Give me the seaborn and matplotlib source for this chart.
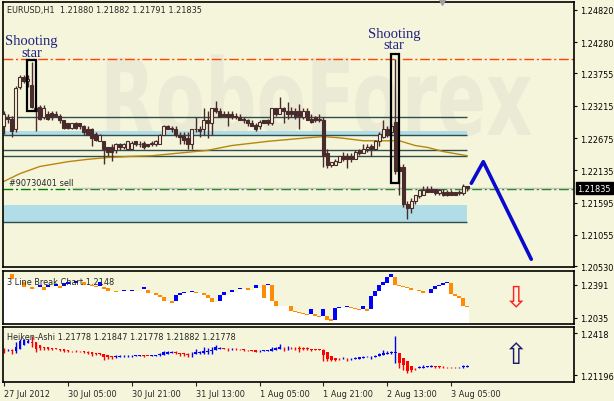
import numpy as np
import pandas as pd
import matplotlib
matplotlib.use("Agg")
import matplotlib.pyplot as plt
from matplotlib.patches import Rectangle, PathPatch
from matplotlib.textpath import TextPath
from matplotlib.font_manager import FontProperties
from matplotlib.transforms import Affine2D
import seaborn as sns

# EURUSD H1 candles (bar 0 = 27 Jul 2012)
bar_open = [1.2287, 1.2303, 1.2300, 1.2283, 1.2353, 1.2370, 1.2363, 1.2357, 1.2317, 1.2320,
            1.2303, 1.2308, 1.2310, 1.2307, 1.2305, 1.2297, 1.2292, 1.2285, 1.2293, 1.2292,
            1.2287, 1.2283, 1.2282, 1.2275, 1.2263, 1.2262, 1.2252, 1.2253, 1.2247, 1.2258,
            1.2252, 1.2250, 1.2250, 1.2262, 1.2258, 1.2260, 1.2257, 1.2257, 1.2257, 1.2258,
            1.2273, 1.2288, 1.2285, 1.2282, 1.2273, 1.2272, 1.2267, 1.2258, 1.2283, 1.2283,
            1.2283, 1.2297, 1.2293, 1.2317, 1.2313, 1.2308, 1.2307, 1.2307, 1.2305, 1.2303,
            1.2300, 1.2297, 1.2293, 1.2290, 1.2287, 1.2297, 1.2297, 1.2292, 1.2317, 1.2308,
            1.2317, 1.2313, 1.2313, 1.2312, 1.2312, 1.2303, 1.2312, 1.2300, 1.2302, 1.2300,
            1.2298, 1.2242, 1.2222, 1.2223, 1.2228, 1.2238, 1.2238, 1.2238, 1.2233, 1.2247,
            1.2243, 1.2250, 1.2255, 1.2250, 1.2263, 1.2270, 1.2282, 1.2278, 1.2295, 1.2220,
            1.2220, 1.2158, 1.2150, 1.2162, 1.2170, 1.2173, 1.2183, 1.2182, 1.2183, 1.2175,
            1.2178, 1.2177, 1.2177, 1.2177, 1.2177, 1.2175, 1.2188]
bar_high = [1.2313, 1.2308, 1.2305, 1.2355, 1.2373, 1.2373, 1.2373, 1.2395, 1.2322, 1.2323,
            1.2322, 1.2312, 1.2312, 1.2312, 1.2307, 1.2298, 1.2293, 1.2293, 1.2295, 1.2293,
            1.2290, 1.2287, 1.2285, 1.2277, 1.2275, 1.2263, 1.2253, 1.2257, 1.2260, 1.2260,
            1.2260, 1.2262, 1.2262, 1.2263, 1.2262, 1.2262, 1.2258, 1.2263, 1.2265, 1.2275,
            1.2290, 1.2290, 1.2287, 1.2287, 1.2277, 1.2277, 1.2277, 1.2283, 1.2303, 1.2287,
            1.2317, 1.2313, 1.2317, 1.2330, 1.2317, 1.2313, 1.2312, 1.2312, 1.2310, 1.2307,
            1.2303, 1.2300, 1.2297, 1.2292, 1.2297, 1.2298, 1.2300, 1.2318, 1.2318, 1.2337,
            1.2320, 1.2328, 1.2320, 1.2317, 1.2325, 1.2317, 1.2317, 1.2307, 1.2305, 1.2308,
            1.2302, 1.2250, 1.2228, 1.2233, 1.2238, 1.2245, 1.2242, 1.2242, 1.2247, 1.2250,
            1.2257, 1.2257, 1.2258, 1.2265, 1.2278, 1.2297, 1.2287, 1.2292, 1.2400, 1.2225,
            1.2225, 1.2162, 1.2167, 1.2173, 1.2183, 1.2188, 1.2187, 1.2188, 1.2183, 1.2183,
            1.2182, 1.2180, 1.2180, 1.2178, 1.2180, 1.2190, 1.2188]
bar_low = [1.2275, 1.2292, 1.2270, 1.2278, 1.2350, 1.2360, 1.2353, 1.2317, 1.2280, 1.2298,
           1.2300, 1.2297, 1.2297, 1.2302, 1.2293, 1.2283, 1.2283, 1.2283, 1.2283, 1.2283,
           1.2273, 1.2272, 1.2255, 1.2262, 1.2262, 1.2225, 1.2237, 1.2230, 1.2243, 1.2247,
           1.2250, 1.2248, 1.2250, 1.2255, 1.2252, 1.2250, 1.2253, 1.2255, 1.2255, 1.2257,
           1.2272, 1.2282, 1.2278, 1.2270, 1.2258, 1.2258, 1.2250, 1.2250, 1.2278, 1.2270,
           1.2272, 1.2268, 1.2272, 1.2310, 1.2303, 1.2303, 1.2288, 1.2300, 1.2300, 1.2297,
           1.2293, 1.2288, 1.2287, 1.2280, 1.2283, 1.2292, 1.2290, 1.2290, 1.2305, 1.2307,
           1.2292, 1.2300, 1.2303, 1.2300, 1.2283, 1.2300, 1.2297, 1.2293, 1.2295, 1.2295,
           1.2220, 1.2218, 1.2220, 1.2222, 1.2227, 1.2230, 1.2217, 1.2228, 1.2232, 1.2240,
           1.2242, 1.2245, 1.2237, 1.2248, 1.2255, 1.2267, 1.2270, 1.2272, 1.2207, 1.2173,
           1.2153, 1.2133, 1.2142, 1.2158, 1.2168, 1.2172, 1.2177, 1.2177, 1.2173, 1.2173,
           1.2170, 1.2170, 1.2172, 1.2172, 1.2172, 1.2173, 1.2179]
bar_close = [1.2308, 1.2300, 1.2280, 1.2352, 1.2370, 1.2363, 1.2367, 1.2320, 1.2312, 1.2300,
             1.2318, 1.2300, 1.2302, 1.2305, 1.2297, 1.2285, 1.2285, 1.2292, 1.2285, 1.2287,
             1.2277, 1.2273, 1.2267, 1.2265, 1.2273, 1.2250, 1.2245, 1.2245, 1.2258, 1.2252,
             1.2258, 1.2262, 1.2260, 1.2257, 1.2257, 1.2253, 1.2255, 1.2260, 1.2263, 1.2273,
             1.2288, 1.2283, 1.2282, 1.2273, 1.2270, 1.2265, 1.2257, 1.2283, 1.2282, 1.2280,
             1.2297, 1.2292, 1.2317, 1.2312, 1.2303, 1.2305, 1.2303, 1.2303, 1.2303, 1.2298,
             1.2297, 1.2292, 1.2288, 1.2283, 1.2295, 1.2293, 1.2293, 1.2317, 1.2307, 1.2317,
             1.2312, 1.2308, 1.2307, 1.2305, 1.2305, 1.2312, 1.2297, 1.2295, 1.2297, 1.2297,
             1.2237, 1.2222, 1.2227, 1.2230, 1.2237, 1.2233, 1.2233, 1.2233, 1.2245, 1.2242,
             1.2250, 1.2252, 1.2250, 1.2263, 1.2275, 1.2283, 1.2272, 1.2288, 1.2213, 1.2212,
             1.2158, 1.2150, 1.2163, 1.2172, 1.2180, 1.2180, 1.2178, 1.2178, 1.2175, 1.2180,
             1.2172, 1.2173, 1.2173, 1.2173, 1.2175, 1.2188, 1.21835]

# moving average (read at a few bars)
ma_bar = [0, 4, 9, 16, 21, 26, 32, 37, 51, 57, 66, 76, 80, 84, 90, 99, 103, 106, 110, 116]
ma_val = [1.2195, 1.2208, 1.2220, 1.2228, 1.2232, 1.2235, 1.2237, 1.2238, 1.2247, 1.2255,
          1.2262, 1.2268, 1.2270, 1.2268, 1.2263, 1.2263, 1.2255, 1.2252, 1.2245, 1.2238]

# forecast arrow
fc_bar = [117, 120, 132]
fc_val = [1.2192, 1.2228, 1.2065]

# levels
resist_level = 1.2399
order_level = 1.2182
bid_level = 1.21835
level_lines = [1.2303, 1.2273, 1.2248, 1.2237, 1.2128]
zones = [(1.2273, 1.2280), (1.2128, 1.2155)]

# 3 line break bricks: bar, top, bottom, direction
lb_bar = [2, 5, 7, 9, 10, 11, 13, 14, 15, 16, 18, 20, 22, 23, 24, 25, 26, 28, 30, 32,
          35, 36, 38, 39, 40, 42, 43, 44, 45, 47, 48, 50, 51, 52, 54, 55, 57, 59, 61, 63,
          65, 66, 67, 68, 72, 73, 74, 75, 76, 77, 78, 79, 80, 81, 82, 83, 84, 86, 87, 88,
          89, 90, 91, 92, 93, 94, 95, 96, 97, 98, 99, 100, 101, 102, 104, 105, 107, 108, 109, 110,
          111, 112, 113, 114, 115, 116]
lb_top = [1.2510, 1.2423, 1.2369, 1.2391, 1.2369, 1.2391, 1.2402, 1.2380, 1.2413, 1.2423,
          1.2434, 1.2423, 1.2391, 1.2380, 1.2423, 1.2369, 1.2359, 1.2326, 1.2337, 1.2337,
          1.2369, 1.2337, 1.2305, 1.2283, 1.2261, 1.2218, 1.2283, 1.2305, 1.2315, 1.2326,
          1.2315, 1.2305, 1.2283, 1.2251, 1.2283, 1.2315, 1.2337, 1.2359, 1.2359, 1.2391,
          1.2391, 1.2402, 1.2391, 1.2218, 1.2164, 1.2110, 1.2100, 1.2089, 1.2078, 1.2132,
          1.2078, 1.2057, 1.2132, 1.2057, 1.2024, 1.2143, 1.2154, 1.2164, 1.2154, 1.2143,
          1.2132, 1.2164, 1.2132, 1.2272, 1.2326, 1.2391, 1.2423, 1.2477, 1.2510, 1.2477,
          1.2391, 1.2380, 1.2369, 1.2359, 1.2337, 1.2326, 1.2348, 1.2380, 1.2391, 1.2413,
          1.2423, 1.2413, 1.2294, 1.2272, 1.2251, 1.2164]
lb_bottom = [1.2456, 1.2369, 1.2348, 1.2369, 1.2337, 1.2369, 1.2380, 1.2359, 1.2380, 1.2402,
             1.2413, 1.2391, 1.2380, 1.2369, 1.2380, 1.2348, 1.2326, 1.2315, 1.2326, 1.2326,
             1.2348, 1.2305, 1.2283, 1.2261, 1.2218, 1.2197, 1.2218, 1.2283, 1.2305, 1.2315,
             1.2305, 1.2283, 1.2251, 1.2208, 1.2218, 1.2283, 1.2315, 1.2348, 1.2337, 1.2359,
             1.2251, 1.2391, 1.2218, 1.2164, 1.2110, 1.2100, 1.2089, 1.2078, 1.2067, 1.2078,
             1.2057, 1.2046, 1.2057, 1.2013, 1.2003, 1.2013, 1.2143, 1.2154, 1.2143, 1.2132,
             1.2121, 1.2132, 1.2110, 1.2132, 1.2272, 1.2326, 1.2391, 1.2413, 1.2477, 1.2391,
             1.2380, 1.2369, 1.2359, 1.2337, 1.2326, 1.2305, 1.2305, 1.2348, 1.2380, 1.2391,
             1.2413, 1.2294, 1.2272, 1.2251, 1.2164, 1.2154]
lb_dir = ['dn', 'dn', 'dn', 'up', 'dn', 'up', 'up', 'dn', 'up', 'up',
          'up', 'dn', 'dn', 'dn', 'up', 'dn', 'dn', 'dn', 'up', 'up',
          'up', 'dn', 'dn', 'dn', 'dn', 'dn', 'up', 'up', 'up', 'up',
          'dn', 'dn', 'dn', 'dn', 'up', 'up', 'up', 'up', 'dn', 'up',
          'dn', 'up', 'dn', 'dn', 'dn', 'dn', 'dn', 'dn', 'dn', 'up',
          'dn', 'dn', 'up', 'dn', 'dn', 'up', 'up', 'up', 'dn', 'dn',
          'dn', 'up', 'dn', 'up', 'up', 'up', 'up', 'up', 'up', 'dn',
          'dn', 'dn', 'dn', 'dn', 'dn', 'dn', 'up', 'up', 'up', 'up',
          'up', 'dn', 'dn', 'dn', 'dn', 'dn']

tick_bars = [0, 16, 32, 48, 64, 80, 96, 112]
tick_labels = ['27 Jul 2012', '30 Jul 05:00', '30 Jul 21:00', '31 Jul 13:00',
               '1 Aug 05:00', '1 Aug 21:00', '2 Aug 13:00', '3 Aug 05:00']
main_ticks = [1.24820, 1.24280, 1.23755, 1.23215, 1.22675, 1.22135, 1.21595, 1.21055, 1.20530]
lb_ticks = [1.2391, 1.2035]
ha_ticks = [1.2418, 1.21196]

BG = '#f5f5dc'
CANDLE = '#4a2b2b'
FS = 5.9

sns.set_style("white")
plt.rcParams['font.family'] = ['DejaVu Sans']

df = pd.DataFrame({'bar': np.arange(len(bar_open)), 'open': bar_open, 'high': bar_high,
                   'low': bar_low, 'close': bar_close})
df['bull'] = df['close'] > df['open']

fig = plt.figure(figsize=(6.14, 4.02), dpi=100, facecolor=BG)
ax = fig.add_axes([3 / 614, 1 - 268 / 402, 571 / 614, 265 / 402])
ax2 = fig.add_axes([3 / 614, 1 - 325 / 402, 571 / 614, 53.3 / 402], sharex=ax)
ax3 = fig.add_axes([3 / 614, 1 - 383 / 402, 571 / 614, 55.3 / 402], sharex=ax)

for a in (ax, ax2, ax3):
    a.set_facecolor(BG)
    for s in a.spines.values():
        s.set_color('black')
        s.set_linewidth(1.2)
    a.yaxis.tick_right()
    a.tick_params(axis='y', which='both', right=True, left=False, length=2.5, width=0.8,
                  labelsize=FS, pad=1.5, colors='black')
    a.tick_params(axis='x', bottom=False, labelbottom=False)

ax.set_xlim(-0.2, 142.7)

# ---- main panel ----
# faint watermark, stretched to the logo's proportions (pixel units)
wm = TextPath((0, 0), 'RoboForex', size=1,
              prop=FontProperties(family='DejaVu Sans', weight='bold'))
wm_tr = Affine2D().scale(72 / 614, 106 / 402).translate(100 / 614, (402 - 136) / 402) + fig.transFigure
ax.add_patch(PathPatch(wm, transform=wm_tr, color='#eaead5', lw=0, zorder=0, clip_on=True))

for lo, hi in zones:
    ax.fill_between([-0.2, 116], lo, hi, color='#b0dde6', lw=0, zorder=1)
ax.hlines(level_lines, -0.2, 116, color='#2f4f4f', lw=1, zorder=2)
ax.axhline(resist_level, color='#ff4500', lw=1, dashes=(7, 2, 1.5, 2), zorder=2)
ax.axhline(order_level, color='#008000', lw=1, dashes=(7, 2, 1.5, 2), zorder=2)
ax.hlines(bid_level, 17, 142.7, color='#c0c0c0', lw=1, zorder=2)
ax.text(1.4, 1.2193, '#90730401 sell', fontsize=FS, va='center', ha='left', zorder=5)

sns.lineplot(x=ma_bar, y=ma_val, ax=ax, color='#b8860b', lw=1, zorder=2)

ax.vlines(df['bar'], df['low'], df['high'], color=CANDLE, lw=1, zorder=3)
body = (df['close'] - df['open']).abs().clip(lower=0.00006)
ax.bar(df['bar'], body, bottom=df[['open', 'close']].min(axis=1), width=0.72,
       color=np.where(df['bull'], BG, CANDLE), edgecolor=CANDLE, lw=0.8, zorder=4)

ax.add_patch(Rectangle((5.9, 1.2312), 2.05, 1.2398 - 1.2312, fill=False, ec='black', lw=1.6, zorder=6))
ax.add_patch(Rectangle((96.9, 1.2192), 2.1, 1.2408 - 1.2192, fill=False, ec='black', lw=1.6, zorder=6))
ax.text(6.9, 1.2421, 'Shooting\nstar', ha='center', va='center', family='Liberation Serif',
        fontsize=10.5, color='#202080', linespacing=0.85, zorder=6)
ax.text(97.7, 1.2433, 'Shooting\nstar', ha='center', va='center', family='Liberation Serif',
        fontsize=10.5, color='#202080', linespacing=0.85, zorder=6)

sns.lineplot(x=fc_bar, y=fc_val, ax=ax, color='#0a0acd', lw=2.6, zorder=7, sort=False)

ax.set_ylim(1.2052, 1.2495)
ax.set_yticks(main_ticks)
ax.set_yticklabels([f'{v:.5f}' for v in main_ticks])
ax.text(0.007, 0.971, 'EURUSD,H1  1.21880 1.21882 1.21791 1.21835', transform=ax.transAxes,
        fontsize=FS, va='center', ha='left')
ax.annotate(f'{bid_level:.5f}', xy=(1, bid_level), xycoords=('axes fraction', 'data'),
            xytext=(2.5, 0), textcoords='offset points', va='center', ha='left', color='white',
            fontsize=FS, bbox=dict(boxstyle='square,pad=0.2', fc='black', ec='black'),
            annotation_clip=False)
ax.plot([109.7], [1.2495], marker='v', color='#a0a0a0', ms=5, clip_on=False, zorder=8)
ax.set_xlabel('')
ax.set_ylabel('')

# ---- 3 line break panel ----
lb = pd.DataFrame({'bar': lb_bar, 'top': lb_top, 'bottom': lb_bottom, 'dir': lb_dir})
edge_x = np.concatenate([[-0.2], lb['bar'].values[1:] - 0.5, [lb['bar'].values[-1] + 0.5]])
edge_y = np.concatenate([lb['bottom'].values, [lb['bottom'].values[-1]]])
ax2.fill_between(edge_x, edge_y, 1.1970, step='post', color='white', lw=0, zorder=1)
ax2.bar(lb['bar'], lb['top'] - lb['bottom'], bottom=lb['bottom'], width=1.0,
        color=np.where(lb['dir'] == 'up', '#0000ff', '#ff8c00'), lw=0, zorder=2)
ax2.set_ylim(1.1970, 1.2545)
ax2.set_yticks(lb_ticks)
ax2.set_yticklabels([f'{v:.4f}' for v in lb_ticks])
ax2.text(0.007, 0.79, '3 Line Break Chart 1.2148', transform=ax2.transAxes, fontsize=FS,
         va='center', ha='left', zorder=5)
ax2.text(0.897, 0.5, '\u21e9', transform=ax2.transAxes, fontsize=21, color='#ff2020',
         ha='center', va='center')

# ---- Heiken Ashi panel ----
ha_close = (df['open'] + df['high'] + df['low'] + df['close']) / 4
ha_open = np.empty(len(df))
ha_open[0] = (df['open'].iloc[0] + df['close'].iloc[0]) / 2
for k in range(1, len(df)):
    ha_open[k] = (ha_open[k - 1] + ha_close.iloc[k - 1]) / 2
ha_high = np.maximum.reduce([df['high'].values, ha_open, ha_close.values])
ha_low = np.minimum.reduce([df['low'].values, ha_open, ha_close.values])
ha_col = np.where(ha_close.values >= ha_open, '#0000ff', '#ff0000')
ax3.vlines(df['bar'], ha_low, ha_high, color=ha_col, lw=1, zorder=2)
ax3.bar(df['bar'], np.abs(ha_close.values - ha_open).clip(0.0003), bottom=np.minimum(ha_open, ha_close.values),
        width=0.6, color=ha_col, lw=0, zorder=3)
ax3.set_ylim(1.2070, 1.2463)
ax3.set_yticks(ha_ticks)
ax3.set_yticklabels(['1.2418', '1.21196'])
ax3.text(0.007, 0.82, 'Heiken-Ashi 1.21778 1.21847 1.21778 1.21882 1.21778',
         transform=ax3.transAxes, fontsize=FS, va='center', ha='left', zorder=5)
ax3.text(0.897, 0.48, '\u21e7', transform=ax3.transAxes, fontsize=21, color='#1a1a70',
         ha='center', va='center')

ax3.tick_params(axis='x', bottom=True, labelbottom=True, length=3, width=0.8,
                labelsize=FS, pad=2)
ax3.set_xticks(tick_bars)
ax3.set_xticklabels(tick_labels, ha='left')

plt.savefig('out.png', dpi=100, facecolor=BG)
